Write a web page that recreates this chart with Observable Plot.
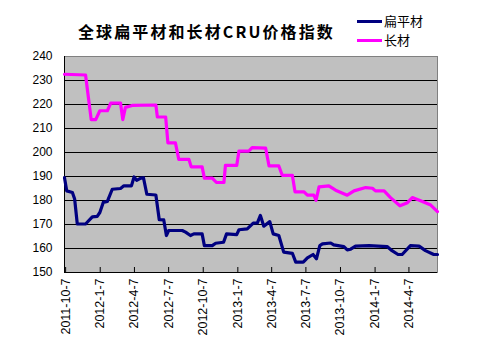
<!DOCTYPE html>
<html>
<head>
<meta charset="utf-8">
<script src="https://cdn.jsdelivr.net/npm/d3@7"></script>
<script src="https://cdn.jsdelivr.net/npm/@observablehq/plot@0.6"></script>
<style>
  html, body { margin: 0; padding: 0; background: #fff; }
  #wrap { position: relative; width: 483px; height: 351px; overflow: hidden; }
  #title { position: absolute; left: 78px; top: 21px; font-family: "Noto Sans CJK SC", sans-serif; font-weight: bold; font-size: 16px; letter-spacing: 2.1px; line-height: 20px; color: #000; white-space: nowrap; }
  .lg { position: absolute; left: 357px; width: 25px; height: 3px; }
  .lt { position: absolute; left: 384px; font-family: "Noto Sans CJK SC", sans-serif; font-size: 13px; line-height: 16px; color: #000; white-space: nowrap; }
</style>
</head>
<body>
<div id="wrap">
  <div id="chart"></div>
  <div id="title">全球扁平材和长材CRU价格指数</div>
  <div class="lg" style="top:20px;background:#000080"></div>
  <div class="lt" style="top:13px">扁平材</div>
  <div class="lg" style="top:39px;background:#ff00ff"></div>
  <div class="lt" style="top:32px">长材</div>
</div>
<script>
const seriesNames = ["扁平材", "长材"];
const seriesColors = ["#000080", "#ff00ff"];

const flatDates = ["2011-10-04","2011-10-10","2011-10-25","2011-10-31","2011-11-07","2011-11-29","2011-12-17","2011-12-30","2012-01-06","2012-01-15","2012-01-26","2012-02-08","2012-03-01","2012-03-10","2012-03-30","2012-04-06","2012-04-13","2012-04-24","2012-05-01","2012-05-10","2012-06-03","2012-06-12","2012-06-24","2012-07-01","2012-07-07","2012-08-12","2012-08-21","2012-09-03","2012-09-12","2012-10-04","2012-10-10","2012-10-31","2012-11-09","2012-11-30","2012-12-08","2013-01-04","2013-01-10","2013-02-01","2013-02-17","2013-02-28","2013-03-08","2013-03-17","2013-04-02","2013-04-11","2013-04-26","2013-05-09","2013-06-01","2013-06-10","2013-06-30","2013-07-11","2013-07-26","2013-08-04","2013-08-13","2013-08-20","2013-09-11","2013-09-19","2013-10-16","2013-10-25","2013-11-03","2013-11-16","2013-12-22","2014-02-08","2014-02-21","2014-03-09","2014-03-20","2014-04-11","2014-05-04","2014-05-21","2014-06-12","2014-06-22"];
const flatValues = [189.5,184,183.3,180.6,170.2,170.2,173.2,173.4,175,179.2,179.6,184.7,185,186.1,186.1,189.8,188.4,189.3,189.5,182.6,182.3,172,171.9,165.4,167.5,167.5,166.8,165.4,166.1,166.1,161.2,161.2,162.2,162.6,166.1,165.8,167.8,168.2,170.6,170.7,173.8,169.3,171.2,166.1,165.4,158.5,158,154.3,154.3,156.1,157.5,155.7,161.2,161.9,162.3,161.5,160.8,159.4,159.7,161,161.2,160.8,159.1,157.5,157.5,161.2,161,159.1,157.5,157.5];

const longDates = ["2011-10-04","2011-11-29","2011-12-14","2011-12-26","2012-01-06","2012-01-26","2012-02-04","2012-03-01","2012-03-07","2012-03-14","2012-04-01","2012-06-03","2012-06-07","2012-06-29","2012-07-05","2012-07-25","2012-08-03","2012-08-30","2012-09-05","2012-10-04","2012-10-10","2012-10-31","2012-11-11","2012-12-01","2012-12-05","2013-01-04","2013-01-10","2013-02-05","2013-02-14","2013-03-22","2013-03-31","2013-04-26","2013-05-05","2013-06-01","2013-06-08","2013-07-02","2013-07-11","2013-07-28","2013-08-03","2013-08-11","2013-09-06","2013-09-24","2013-10-25","2013-11-12","2013-12-13","2013-12-31","2014-01-08","2014-01-31","2014-02-17","2014-03-14","2014-04-03","2014-04-16","2014-05-08","2014-06-04","2014-06-22"];
const longValues = [232.6,232.3,213.7,213.7,217.4,217.4,220.6,220.6,213.7,218.8,219.6,219.8,214.8,214.8,204,204,197.1,197.1,194,194,189.3,189.3,187.5,187.5,194.6,194.6,200.6,200.6,202,201.8,194.4,194.4,190.5,190.5,183.6,183.6,182.2,182.2,180.1,185.7,186.1,184.3,182.2,184,185.4,185.1,184,184,181.2,177.8,179.1,181.2,179.9,178.1,175.4];

const tickLabels = ["2011-10-7","2012-1-7","2012-4-7","2012-7-7","2012-10-7","2013-1-7","2013-4-7","2013-7-7","2013-10-7","2014-1-7","2014-4-7"];
const yTicks = [150,160,170,180,190,200,210,220,230,240];
const xDomain = ["2011-10-04","2014-06-22"];

const parse = d3.utcParse("%Y-%m-%d");
const tickDates = tickLabels.map(s => parse(s.split("-").map((p,i)=> i===0 ? p : p.padStart(2,"0")).join("-")));
const fmt = d => `${d.getUTCFullYear()}-${d.getUTCMonth()+1}-${d.getUTCDate()}`;

const data = [];
flatDates.forEach((d,i) => data.push({date: parse(d), value: flatValues[i], series: seriesNames[0]}));
longDates.forEach((d,i) => data.push({date: parse(d), value: longValues[i], series: seriesNames[1]}));

const x0 = parse(xDomain[0]), x1 = parse(xDomain[1]);

const chart = Plot.plot({
  width: 483,
  height: 351,
  marginTop: 56,
  marginBottom: 79,
  marginLeft: 64,
  marginRight: 46,
  style: {fontFamily: "Liberation Sans, Arial, sans-serif", fontSize: "12px", background: "transparent", color: "#000"},
  x: {type: "utc", domain: [x0, x1], label: null},
  y: {domain: [150, 240], label: null},
  color: {domain: seriesNames, range: seriesColors},
  marks: [
    Plot.frame({fill: "#c0c0c0", stroke: "#808080"}),
    Plot.ruleY(yTicks.filter(v => v > 150 && v < 240), {stroke: "#000", strokeWidth: 1}),
    Plot.ruleX([x0], {stroke: "#000"}),
    Plot.ruleY([150], {stroke: "#000"}),
    Plot.tickX(tickDates, {x: d => d, stroke: "#000", insetTop: 211}),
    Plot.axisY({ticks: yTicks, tickSize: 0, tickPadding: 12, fontSize: 12, label: null}),
    Plot.axisX({ticks: tickDates, tickFormat: fmt, tickSize: 0, tickPadding: 6, tickRotate: -90, fontSize: 12.5, label: null}),
    Plot.line(data, {x: "date", y: "value", z: "series", stroke: "series", strokeWidth: 3.2})
  ]
});
document.getElementById("chart").appendChild(chart);
</script>
</body>
</html>
